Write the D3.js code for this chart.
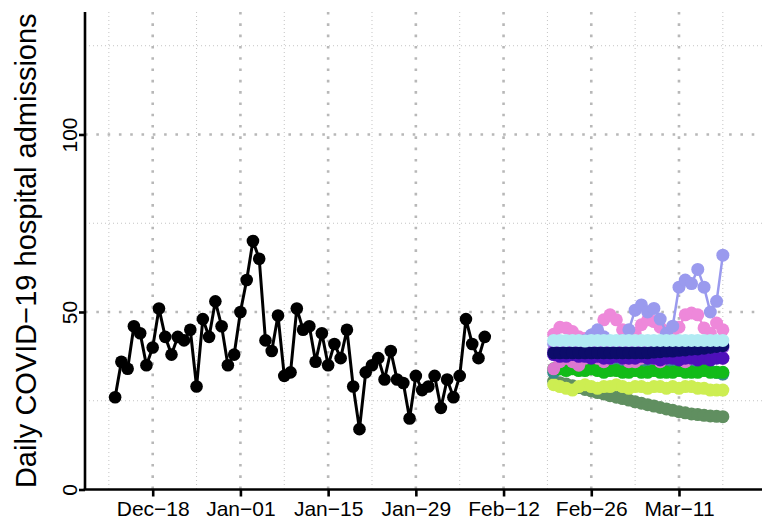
<!DOCTYPE html>
<html><head><meta charset="utf-8">
<script src="https://cdn.jsdelivr.net/npm/d3@7"></script>
<style>body{margin:0;background:#fff}svg{display:block}text{font-family:"Liberation Sans",Arial,Helvetica,sans-serif}</style>
</head><body><svg id="c" width="765" height="529"></svg>
<script>
// ---- data ----
const obsStart = "2023-12-12";
const observed = [26,36,34,46,44,35,40,51,43,38,43,42,45,29,48,43,53,46,35,38,50,59,70,65,42,39,49,32,33,51,45,46,36,44,35,41,37,45,29,17,33,35,37,31,39,31,30,20,32,28,29,32,23,31,26,32,48,41,37,43];
const fcStart = "2024-02-20";
const fcGrayGreen = [30.5,30.1,29.7,29.2,28.7,28.2,27.8,27.3,26.9,26.4,26.0,25.6,25.2,24.7,24.3,23.9,23.5,23.1,22.7,22.3,21.9,21.6,21.3,21.1,20.9,20.7,20.6,20.5];
const fcYellowGreen = [29.5,29,28.5,28,29,29.5,29,28.5,29,29,29.5,29,28.5,29,29,28.5,29,29,28.5,29,28.5,29,29,28.5,28.5,28,28,28];
const fcTeal = [33,34,34.5,35,34.5,35,35.5,35,35,36,35.5,35,36,36,36.5,36,35.5,35,35,35.5,34.5,35,35,34,34.5,33.5,33,32.5];
const fcGreen = [34,34,33.5,34,33.5,33.5,34,33.5,33,33.5,33.5,33,33,33.5,33,33,33.5,33,33,33,33.5,33,33,33,33.5,33,33,33];
const fcOrchid = [34,36,37,36,35,37,38,37,36,37,38,37,36,36,37,38,37,36,37,38,37,36,37,38,39,37,38,37];
const fcPink = [43.7,45.7,45.5,44.5,43,42.5,43,44.5,47.8,49.2,47.8,45,43,44,46.4,47.8,47.3,45.7,44.5,43.5,45.7,49.2,49.7,49.2,45.5,44,46.9,45];
const fcLavender = [41,41,41.5,41,41,42,43.5,45,43,41.5,41,42,45,50.5,52,50,51,48,44,46,57,59,58,62,57,50,53,66];
const fcMedPurple = [39,39.5,39,40,39.5,39,40,39.5,39,39.5,40,39.5,39,39.5,40,39.5,39.5,40,39,39.5,40,39.5,39,39.5,40,39.5,39.5,40];
const fcPurple = [38,37.5,37.5,38,37.5,37.5,37,37.5,37,37,37.5,37,37,37,37.5,37,37,36.5,37,37,36.5,37,37,36.5,37,36.5,37,37];
const fcNavy = [38.5,38.5,38.5,38.5,38.5,38.5,38.5,38.5,38.5,38.5,38.5,38.5,38.5,38.5,38.5,38.5,38.7,38.8,39,39,39.2,39.3,39.5,39.6,39.8,40,40.3,40.5];
const fcCyan = [42,42,42,42,42,41.8,42,42,42,42,42,42,42,42,42,42,42,42,42,42,42,42,42,42,42,42,42,42];
const forecastSeries = [
  {name:"grayGreen", values:fcGrayGreen, color:"#608F60"},
  {name:"yellowGreen", values:fcYellowGreen, color:"#CDEE52"},
  {name:"teal", values:fcTeal, color:"#348C8C"},
  {name:"green", values:fcGreen, color:"#12BB18"},
  {name:"orchid", values:fcOrchid, color:"#DD77D0"},
  {name:"pink", values:fcPink, color:"#EE88DA"},
  {name:"lavender", values:fcLavender, color:"#9A9AEE"},
  {name:"medPurple", values:fcMedPurple, color:"#9955DD"},
  {name:"purple", values:fcPurple, color:"#4E10BA"},
  {name:"navy", values:fcNavy, color:"#0C0C6A"},
  {name:"cyan", values:fcCyan, color:"#B2EBF3"}
];
const xTickLabels = ["Dec\u221218","Jan\u221201","Jan\u221215","Jan\u221229","Feb\u221212","Feb\u221226","Mar\u221211"];
const xTickDates = ["2023-12-18","2024-01-01","2024-01-15","2024-01-29","2024-02-12","2024-02-26","2024-03-11"];
const xMinorDates = ["2023-12-11","2023-12-25","2024-01-08","2024-01-22","2024-02-05","2024-02-19","2024-03-04","2024-03-18"];
const yTicks = [0,50,100];
const yMinor = [25,75,125];
const yTitle = "Daily COVID\u221219 hospital admissions";

// ---- layout ----
const parse = d3.utcParse("%Y-%m-%d");
const DAY = 864e5;
const ref = parse("2023-12-18").getTime();
const L = 85, R = 762, T = 12, B = 489.5;
const x = d3.scaleUtc().domain([new Date(ref - 10.806*DAY), new Date(ref + 97.25*DAY)]).range([L, R]);
const y = d3.scaleLinear().domain([0, 134.5]).range([B, T]);
const svg = d3.select("#c");

const days = (start, n) => d3.utcDay.range(parse(start), d3.utcDay.offset(parse(start), n));

// gridlines
const g = svg.append("g");
g.selectAll(".vmin").data(xMinorDates).join("line")
  .attr("x1", d=>x(parse(d))).attr("x2", d=>x(parse(d))).attr("y1", T).attr("y2", B)
  .attr("stroke","#C4C4C4").attr("stroke-width",1).attr("stroke-dasharray","1,3");
g.selectAll(".hmin").data(yMinor).join("line")
  .attr("x1", L).attr("x2", R).attr("y1", d=>y(d)).attr("y2", d=>y(d))
  .attr("stroke","#C4C4C4").attr("stroke-width",1).attr("stroke-dasharray","1,3");
g.selectAll(".vmaj").data(xTickDates).join("line")
  .attr("x1", d=>x(parse(d))).attr("x2", d=>x(parse(d))).attr("y1", T).attr("y2", B)
  .attr("stroke","#B8B8B8").attr("stroke-width",2.6).attr("stroke-dasharray","2.6,8.7");
g.selectAll(".hmaj").data(yTicks.filter(d=>d>0)).join("line")
  .attr("x1", L).attr("x2", R).attr("y1", d=>y(d)).attr("y2", d=>y(d))
  .attr("stroke","#B8B8B8").attr("stroke-width",2.6).attr("stroke-dasharray","2.6,8.7");

// forecasts
const line = d3.line().x(d=>x(d[0])).y(d=>y(d[1]));
forecastSeries.forEach(s => {
  const dts = days(fcStart, s.values.length);
  const pts = s.values.map((v,i)=>[dts[i], v]);
  const gs = svg.append("g");
  gs.append("path").attr("d", line(pts)).attr("fill","none").attr("stroke", s.color).attr("stroke-width",2.5);
  gs.selectAll("circle").data(pts).join("circle")
    .attr("cx", d=>x(d[0])).attr("cy", d=>y(d[1])).attr("r",6.5).attr("fill", s.color);
});

// observed
{
  const dts = days(obsStart, observed.length);
  const pts = observed.map((v,i)=>[dts[i], v]);
  svg.append("path").attr("d", line(pts)).attr("fill","none").attr("stroke","#000").attr("stroke-width",3);
  svg.append("g").selectAll("circle").data(pts).join("circle")
    .attr("cx", d=>x(d[0])).attr("cy", d=>y(d[1])).attr("r",6.3).attr("fill","#000");
}

// axes
const xAxis = d3.axisBottom(x).tickValues(xTickDates.map(parse)).tickFormat((d,i)=>xTickLabels[i]).tickSizeOuter(0).tickSize(7).tickPadding(5);
const xa = svg.append("g").attr("transform",`translate(0,${B})`).call(xAxis);
xa.select(".domain").attr("stroke-width",2.6).attr("d",`M${L-1.3},0H${R}`);
xa.selectAll(".tick line").attr("stroke-width",2.6);
xa.selectAll(".tick text").attr("font-size",21).attr("font-family","Liberation Sans, Arial, sans-serif").attr("fill","#000");

const yAxis = d3.axisLeft(y).tickValues(yTicks).tickSizeOuter(0).tickSize(6).tickFormat(d3.format("d"));
const ya = svg.append("g").attr("transform",`translate(${L},0)`).call(yAxis);
ya.select(".domain").attr("stroke-width",2.6).attr("d",`M0,${B}V${T}`);
ya.selectAll(".tick line").attr("stroke-width",2.6);
ya.selectAll(".tick text").attr("font-size",21).attr("font-family","Liberation Sans, Arial, sans-serif").attr("fill","#000")
  .attr("x",null).attr("dy",null).attr("text-anchor","middle")
  .attr("transform","translate(-8,0) rotate(-90)");

svg.append("text").attr("transform",`translate(36,${(T+B)/2}) rotate(-90)`)
  .attr("text-anchor","middle").attr("font-size",29).attr("fill","#000").text(yTitle);
</script></body></html>
